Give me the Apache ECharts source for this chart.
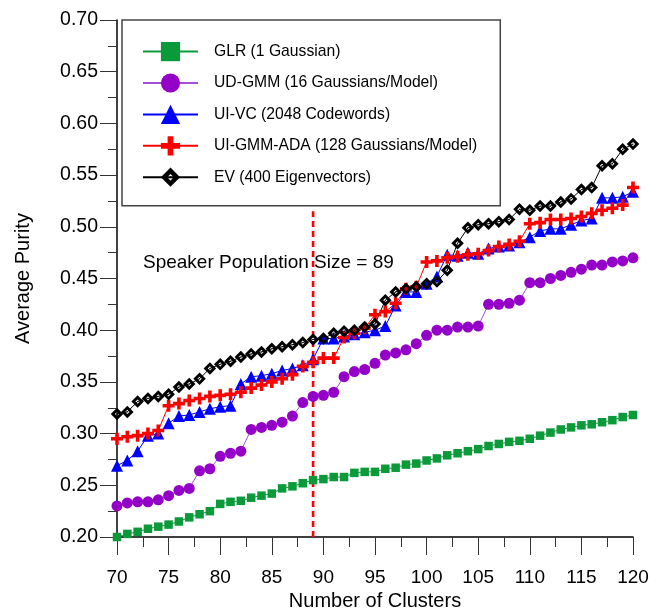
<!DOCTYPE html>
<html>
<head>
<meta charset="utf-8">
<script src="https://cdn.jsdelivr.net/npm/echarts@6/dist/echarts.min.js"></script>
<style>
  html, body { margin: 0; padding: 0; background: #fff; }
  #chart { width: 659px; height: 611px; }
</style>
</head>
<body>
<div id="chart"></div>
<script>
// Number of clusters on the x axis
const clusters = [70, 71, 72, 73, 74, 75, 76, 77, 78, 79, 80, 81, 82, 83, 84, 85, 86, 87, 88, 89,
  90, 91, 92, 93, 94, 95, 96, 97, 98, 99, 100, 101, 102, 103, 104, 105, 106, 107, 108, 109,
  110, 111, 112, 113, 114, 115, 116, 117, 118, 119, 120];

// Average purity per method
const glr = [0.200, 0.203, 0.205, 0.208, 0.210, 0.212, 0.215, 0.219, 0.222, 0.225, 0.232, 0.234, 0.235, 0.238, 0.240, 0.242, 0.247, 0.249, 0.252, 0.255,
  0.256, 0.258, 0.258, 0.262, 0.263, 0.263, 0.266, 0.267, 0.270, 0.271, 0.274, 0.276, 0.279, 0.281, 0.283, 0.285, 0.288, 0.290, 0.292, 0.293,
  0.295, 0.298, 0.301, 0.304, 0.306, 0.308, 0.309, 0.311, 0.313, 0.316, 0.318];
const udGmm = [0.230, 0.233, 0.234, 0.234, 0.236, 0.240, 0.245, 0.247, 0.264, 0.266, 0.278, 0.281, 0.283, 0.304, 0.306, 0.308, 0.311, 0.317, 0.330, 0.336,
  0.337, 0.340, 0.355, 0.360, 0.362, 0.368, 0.376, 0.378, 0.381, 0.387, 0.395, 0.400, 0.400, 0.403, 0.403, 0.404, 0.425, 0.425, 0.426, 0.429,
  0.446, 0.446, 0.450, 0.453, 0.456, 0.459, 0.463, 0.463, 0.466, 0.467, 0.470];
const uiVc = [0.269, 0.274, 0.283, 0.298, 0.300, 0.310, 0.317, 0.318, 0.321, 0.324, 0.326, 0.327, 0.348, 0.355, 0.356, 0.358, 0.361, 0.363, 0.366, 0.372,
  0.392, 0.392, 0.394, 0.396, 0.398, 0.400, 0.404, 0.424, 0.437, 0.437, 0.445, 0.452, 0.473, 0.472, 0.475, 0.474, 0.479, 0.481, 0.482, 0.485,
  0.490, 0.496, 0.498, 0.498, 0.502, 0.506, 0.508, 0.528, 0.528, 0.529, 0.534];
const uiGmmAda = [0.295, 0.297, 0.298, 0.300, 0.303, 0.327, 0.329, 0.332, 0.334, 0.336, 0.337, 0.338, 0.340, 0.344, 0.347, 0.350, 0.353, 0.357, 0.365, 0.369,
  0.373, 0.373, 0.393, 0.397, 0.402, 0.415, 0.418, 0.426, 0.440, 0.442, 0.466, 0.467, 0.470, 0.471, 0.473, 0.474, 0.477, 0.481, 0.483, 0.486,
  0.503, 0.504, 0.507, 0.507, 0.508, 0.510, 0.513, 0.516, 0.518, 0.521, 0.538];
const ev = [0.319, 0.321, 0.331, 0.334, 0.336, 0.338, 0.345, 0.348, 0.353, 0.363, 0.367, 0.370, 0.374, 0.377, 0.379, 0.382, 0.384, 0.386, 0.388, 0.391,
  0.392, 0.397, 0.399, 0.400, 0.403, 0.406, 0.429, 0.437, 0.440, 0.442, 0.445, 0.447, 0.458, 0.484, 0.499, 0.502, 0.503, 0.505, 0.507, 0.517,
  0.516, 0.520, 0.520, 0.524, 0.527, 0.536, 0.538, 0.559, 0.561, 0.575, 0.580];

const seriesNames = [
  'GLR (1 Gaussian)',
  'UD-GMM (16 Gaussians/Model)',
  'UI-VC (2048 Codewords)',
  'UI-GMM-ADA (128 Gaussians/Model)',
  'EV (400 Eigenvectors)'
];

// Speaker population size, marked with a dashed vertical line
const populationSize = 89;
const populationLineTop = 0.515;

const FONT = '"Liberation Sans", Arial, sans-serif';

// Custom marker shapes: a plus sign, and an outlined diamond with a centre dot
const plusSymbol = 'path://M7,0 L13,0 L13,7 L20,7 L20,13 L13,13 L13,20 L7,20 L7,13 L0,13 L0,7 L7,7 Z';
const diamondSymbol = 'path://M10,0 L20,10 L10,20 L0,10 Z M10,6.6 L6.6,10 L10,13.4 L13.4,10 Z M10,8.9 L11.1,10 L10,11.1 L8.9,10 Z';

function pairs(values) {
  return clusters.map((c, i) => [c, values[i]]);
}

function lineSeries(name, values, color, lineColor, symbol, size) {
  return {
    name: name,
    type: 'line',
    data: pairs(values),
    symbol: symbol,
    symbolSize: size,
    showAllSymbol: true,
    itemStyle: { color: color, opacity: 1 },
    lineStyle: { color: lineColor, width: 1 },
    emphasis: { disabled: true },
    animation: false
  };
}

const chart = echarts.init(document.getElementById('chart'), null, { renderer: 'canvas' });

chart.setOption({
  backgroundColor: '#ffffff',
  animation: false,
  textStyle: { fontFamily: FONT },
  grid: { left: 117, right: 26, top: 20, bottom: 74, containLabel: false, outerBoundsMode: 'none' },
  xAxis: {
    type: 'value',
    min: 70,
    max: 120,
    interval: 5,
    name: 'Number of Clusters',
    nameLocation: 'middle',
    nameGap: 51,
    nameTextStyle: { fontSize: 20, color: '#000', fontFamily: FONT },
    axisLine: { show: true, onZero: false, lineStyle: { color: '#000', width: 1.5 } },
    axisTick: { show: true, inside: false, length: 18, lineStyle: { color: '#333', width: 1 } },
    minorTick: { show: true, splitNumber: 2, length: 10, lineStyle: { color: '#333', width: 1 } },
    axisLabel: { margin: 31, fontSize: 19, color: '#000', fontFamily: FONT },
    splitLine: { show: false }
  },
  yAxis: {
    type: 'value',
    min: 0.2,
    max: 0.7,
    interval: 0.05,
    name: 'Average Purity',
    nameLocation: 'middle',
    nameGap: 84,
    nameTextStyle: { fontSize: 20, color: '#000', fontFamily: FONT },
    axisLine: { show: true, onZero: false, lineStyle: { color: '#000', width: 1.5 } },
    axisTick: { show: true, inside: false, length: 17, lineStyle: { color: '#333', width: 1 } },
    minorTick: { show: true, splitNumber: 2, length: 9, lineStyle: { color: '#333', width: 1 } },
    axisLabel: {
      margin: 19,
      fontSize: 19.5,
      color: '#000',
      fontFamily: FONT,
      formatter: v => v.toFixed(2)
    },
    splitLine: { show: false }
  },
  legend: {
    orient: 'vertical',
    left: 122,
    top: 20,
    padding: [22, 23, 19, 20],
    itemWidth: 55,
    itemHeight: 24,
    itemGap: 12.2,
    backgroundColor: '#ffffff',
    borderColor: '#444',
    borderWidth: 1.5,
    borderRadius: 0,
    textStyle: { fontSize: 15.7, color: '#000', fontFamily: FONT, padding: [0, 0, 0, 11] },
    data: seriesNames,
    selectedMode: false
  },
  graphic: [{
    type: 'text',
    left: 143,
    top: 253,
    style: {
      text: 'Speaker Population Size = ' + populationSize,
      fontSize: 19,
      fontFamily: FONT,
      fill: '#000'
    }
  }],
  series: [
    lineSeries(seriesNames[0], glr, '#0a9a3a', '#0a9a3a', 'rect', 8.5),
    lineSeries(seriesNames[1], udGmm, '#9400c8', '#a64fd6', 'circle', 11),
    lineSeries(seriesNames[2], uiVc, '#0000ff', '#0000ff', 'triangle', 12),
    lineSeries(seriesNames[3], uiGmmAda, '#ff0000', '#ff0000', plusSymbol, 12),
    lineSeries(seriesNames[4], ev, '#000000', '#000000', diamondSymbol, 12.5),
    {
      name: 'population',
      type: 'line',
      data: [[populationSize, 0.2], [populationSize, populationLineTop]],
      symbol: 'none',
      lineStyle: { color: '#ff0000', width: 2.6, type: [6, 4] },
      z: 1,
      silent: true,
      animation: false
    }
  ]
});
</script>
</body>
</html>
